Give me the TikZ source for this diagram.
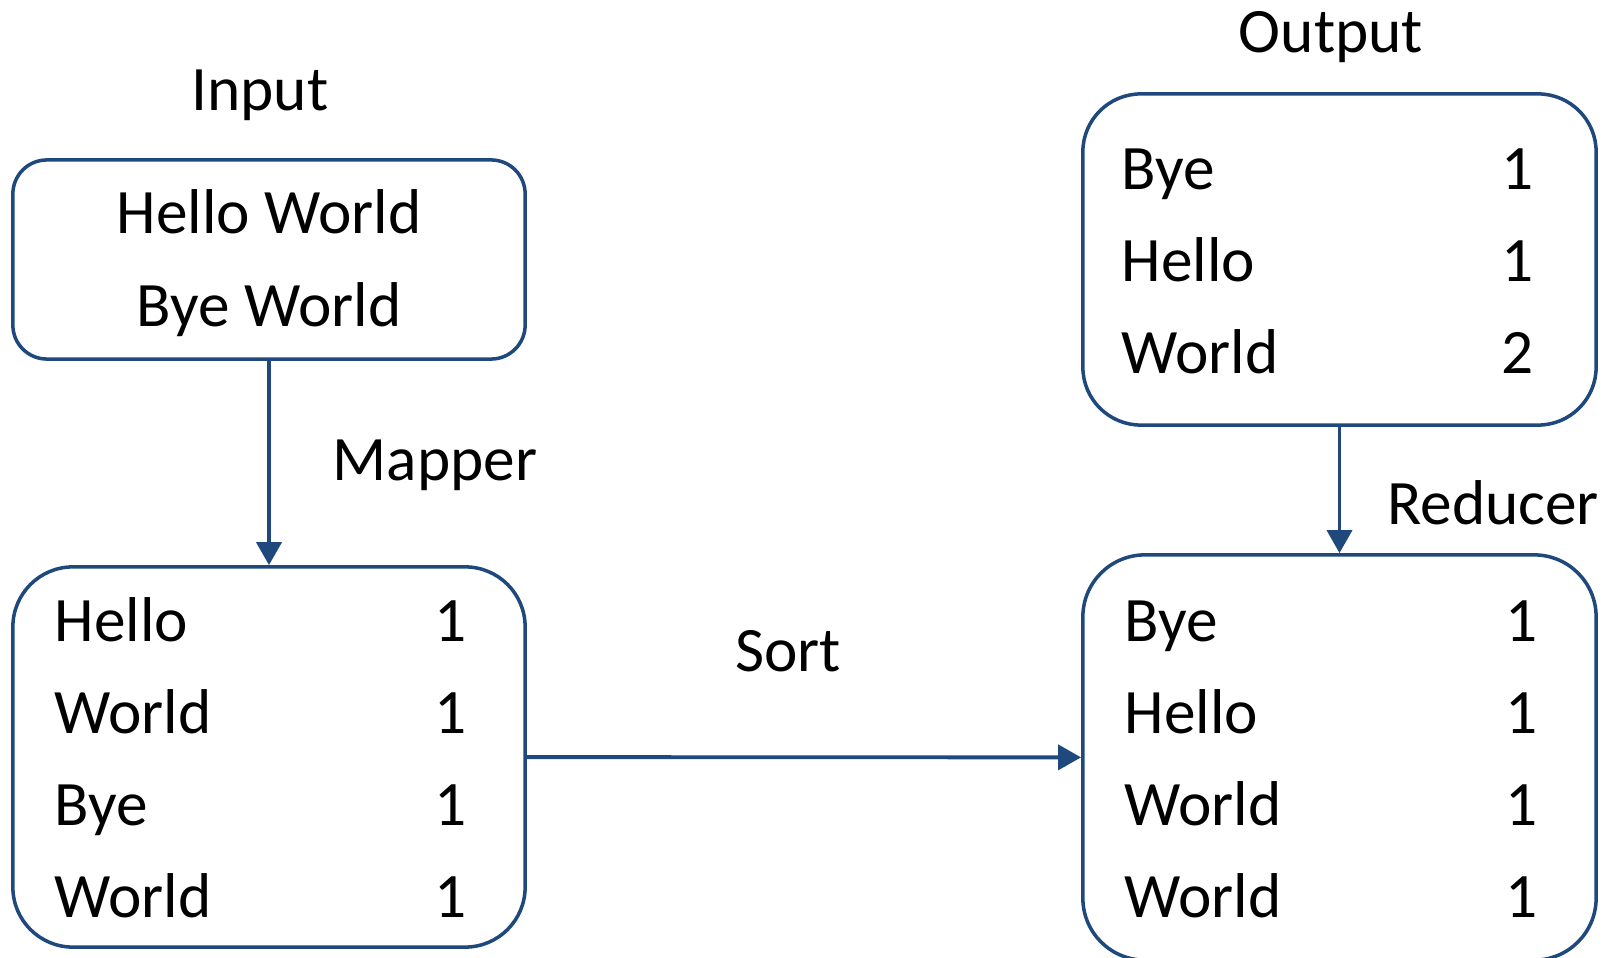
\documentclass[tikz,border=0pt]{standalone}
\usepackage{fontspec}
\setmainfont{Carlito}
\usetikzlibrary{arrows.meta,positioning}
\definecolor{flowblue}{RGB}{31,73,125}

\begin{document}
\begin{tikzpicture}[x=0.01cm,y=-0.01cm,>={Triangle[width=0.25cm,length=0.23cm]},
      box/.style={draw=flowblue,line width=1pt,inner sep=0pt},
      txt/.style={font=\fontsize{18}{22}\selectfont,inner sep=0pt},
      flow/.style={->,flowblue,line width=1.1pt}]
 \useasboundingbox (0,0) rectangle (1617,958);

 % the four boxes
 \node[box, rounded corners=0.34cm, minimum width=5.12cm, minimum height=1.99cm] (in) at (269,259.5) {};
 \node[box, rounded corners=0.6cm, minimum width=5.12cm, minimum height=3.80cm] (map) at (269,757) {};
 \node[box, rounded corners=0.58cm, minimum width=5.13cm, minimum height=3.31cm] (out) at (1339.5,259.5) {};
 \node[box, rounded corners=0.62cm, minimum width=5.13cm, minimum height=4.05cm] (red) at (1339.5,757.5) {};

 % titles and step names
 \node[txt, anchor=base] (inlbl) at (260,111) {Input};
 \node[txt, anchor=base] (outlbl) at (1331,53) {Output};
 \node[txt, anchor=base] (maplbl) at (435,481) {Mapper};
 \node[txt, anchor=base] (sortlbl) at (788,672) {Sort};
 \node[txt, anchor=base] (redlbl) at (1493,525) {Reducer};

 % input lines
 \node[txt, anchor=base] (in1) at (269,234) {Hello World};
 \node[txt, anchor=base] (in2) at (269,327) {Bye World};

 % key/value rows
 \foreach \w [count=\i] in {Hello,World,Bye,World} {
   \node[txt, anchor=base west] (mw\i) at (54,{642+92*(\i-1)}) {\w};
   \node[txt, anchor=base] (mc\i) at (451,{642+92*(\i-1)}) {1};
 }
 \foreach \w [count=\i] in {Bye,Hello,World,World} {
   \node[txt, anchor=base west] (rw\i) at (1124,{642+92*(\i-1)}) {\w};
   \node[txt, anchor=base] (rc\i) at (1522,{642+92*(\i-1)}) {1};
 }
 \foreach \w/\n [count=\i] in {Bye/1,Hello/1,World/2} {
   \node[txt, anchor=base west] (ow\i) at (1121,{190+92*(\i-1)}) {\w};
   \node[txt, anchor=base] (oc\i) at (1518,{190+92*(\i-1)}) {\n};
 }

 % connectors
 \draw[flow] (in) -- (map);
 \draw[flow] (map) -- (red);
 \draw[flow] (out) -- (red);
\end{tikzpicture}
\end{document}
